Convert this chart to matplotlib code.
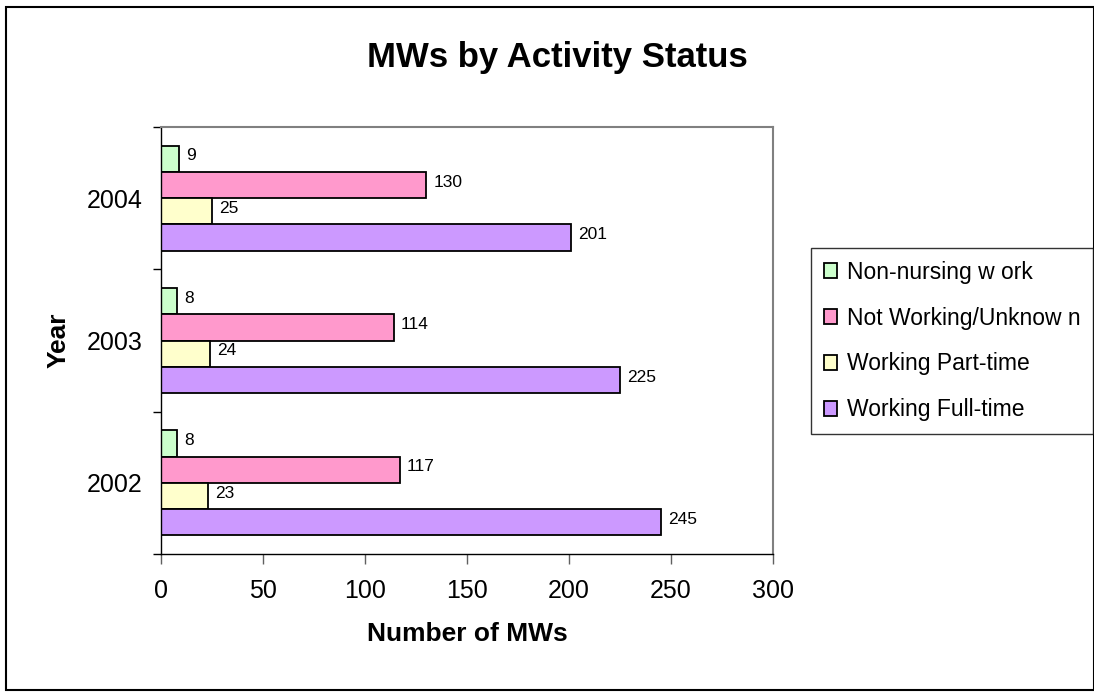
import matplotlib
matplotlib.use("Agg")
import matplotlib.pyplot as plt
from matplotlib.patches import Rectangle
import numpy as np

plt.rcParams['font.family'] = ['Liberation Sans', 'DejaVu Sans']

years = ["2002", "2003", "2004"]
series_names = ["Non-nursing w ork", "Not Working/Unknow n", "Working Part-time", "Working Full-time"]
non_nursing = [8, 8, 9]
not_working = [117, 114, 130]
part_time = [23, 24, 25]
full_time = [245, 225, 201]
colors = ["#CCFFCC", "#FF99CC", "#FFFFCC", "#CC99FF"]

series = [non_nursing, not_working, part_time, full_time]

fig = plt.figure(figsize=(10.94, 6.97), dpi=100)
fig.patches.append(Rectangle((6/1094, 7/697), 1 - 6/1094, 1 - 14/697, transform=fig.transFigure,
                             fill=False, edgecolor='black', linewidth=1.5))

ax = fig.add_axes([161/1094, 1 - 554/697, (773-161)/1094, (554-127)/697])

bar_h = 0.185
y = np.arange(len(years))
for i, (vals, col, name) in enumerate(zip(series, colors, series_names)):
    offset = (1.5 - i) * bar_h
    bars = ax.barh(y + offset, vals, height=bar_h, color=col, edgecolor='black', linewidth=1.3, label=name)
    for b, v in zip(bars, vals):
        ax.text(v + 3.5, b.get_y() + b.get_height() / 2 + 0.02, str(v), va='center', ha='left', fontsize=12.5)

ax.set_xlim(0, 300)
ax.set_ylim(-0.5, 2.5)
ax.set_xticks(np.arange(0, 301, 50))
ax.set_yticks(y)
ax.set_yticklabels(years)
ax.set_yticks(np.arange(-0.5, 2.6, 1.0), minor=True)
ax.tick_params(axis='y', which='major', length=0, pad=13, labelsize=18)
ax.tick_params(axis='y', which='minor', length=6, direction='out', width=1)
ax.tick_params(axis='x', length=7, direction='out', width=1, labelsize=18, pad=11, color='#606060')

for s in ['top', 'right']:
    ax.spines[s].set_color('#808080')
    ax.spines[s].set_linewidth(1.5)
for s in ['left', 'bottom']:
    ax.spines[s].set_color('black')
    ax.spines[s].set_linewidth(1)

ax.set_xlabel("Number of MWs", fontsize=19, fontweight='bold', labelpad=14)
ax.set_ylabel("Year", fontsize=19, fontweight='bold', labelpad=12)
fig.text(557/1094, 1 - 57/697, "MWs by Activity Status", ha='center', va='center', fontsize=25, fontweight='bold')

handles, labels = ax.get_legend_handles_labels()
leg = fig.legend(handles, labels, loc='upper left', bbox_to_anchor=(811/1094, 1 - 248/697),
                 frameon=True, fancybox=False, edgecolor='black', fontsize=16.5,
                 handlelength=0.6, handleheight=0.6, handletextpad=0.4, labelspacing=1.0,
                 borderpad=0.55, borderaxespad=0)
leg.get_frame().set_linewidth(1)

fig.savefig("out.png", dpi=100)
